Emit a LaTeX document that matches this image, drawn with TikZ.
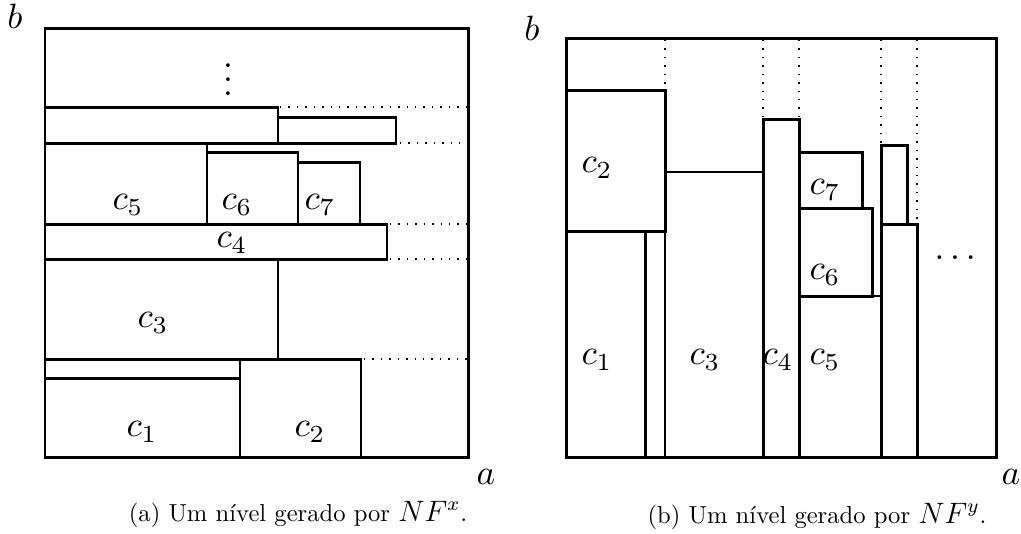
\documentclass[tikz,border=0pt]{standalone}
\usepackage{amsmath,amssymb}
\usepackage{tikz}
\usetikzlibrary{positioning,calc}
\tikzset{
	box/.style={draw=black,line width=0.85pt},
	thinbox/.style={draw=black,line width=0.6pt},
	gap/.style={draw=black,line width=0.4pt,dotted},
	lbl/.style={inner sep=0pt},
	capt/.style={inner sep=0pt,anchor=center,scale=0.7},
}

\begin{document}
\begin{tikzpicture}[x=0.1mm,y=-0.1mm]
	\useasboundingbox (0,0) rectangle (1021,533);
	% (a) nivel NF^x
	\draw[box] (45,28) rectangle (468,457);
	\foreach \xa/\ya/\xb/\yb in {45/107/278/143,278/117/396/143,45/143/207/224,207/152/298/224,298/162/360/224,45/224/387/259,45/259/278/359,45/359/240/378,45/378/240/457,240/359/361/457}
	\draw[box] (\xa,\ya) rectangle (\xb,\yb);
	\foreach \xa/\y in {280/107,400/143,390/224,390/259,364/359}
	\draw[gap] (\xa,\y)--(468,\y);
	\node[lbl] (vd) at (228,69) {$\vdots$};
	\foreach \p/\x/\y in {1/142/432,2/310/432,3/153/323,4/232/243,5/128/205,6/237/205,7/320/205}
	\node[lbl] (ca\p) at (\x,\y) {$c_{\p}$};
	\node[lbl] (ba) at (15,16) {$b$};
	\node[lbl] (aa) at (486,477) {$a$};
	\node[capt] (capa) at (298,514) {(a) Um nível gerado por {\large$NF^x$}.};
	% (b) nivel NF^y
	\draw[box] (566,38) rectangle (996,457);
	\foreach \xa/\ya/\xb/\yb in {566/90/665/231,566/231/645/457,763/119/799/457,799/152/862/208,799/208/872/296,881/145/907/224,881/224/917/457}
	\draw[box] (\xa,\ya) rectangle (\xb,\yb);
	\draw[thinbox] (799,296) rectangle (881,457);
	\draw[thinbox] (645,234)--(645,457) (665,231)--(665,457);
	\draw[thinbox] (665,172)--(763,172);
	\foreach \x/\yb in {665/90,763/119,799/119,881/145,917/224}
	\draw[gap] (\x,40)--(\x,\yb);
	\node[lbl] (dd) at (958,258) {$\dots$};
	\foreach \p/\x/\y in {1/597/360,2/597/168,3/705/360,4/778/360,5/825/360,6/825/275,7/825/190}
	\node[lbl] (cb\p) at (\x,\y) {$c_{\p}$};
	\node[lbl] (bb) at (532,28) {$b$};
	\node[lbl] (ab) at (1011,477) {$a$};
	\node[capt] (capb) at (817,516) {(b) Um nível gerado por {\large$NF^y$}.};
\end{tikzpicture}
\end{document}
